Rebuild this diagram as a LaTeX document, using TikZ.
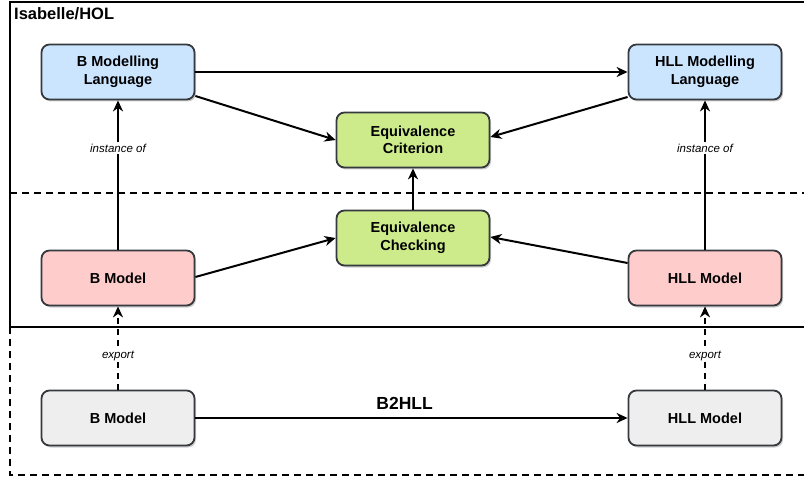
\documentclass[tikz,border=0pt]{standalone}
\usepackage{fontspec}
\setmainfont{Liberation Sans}
\usetikzlibrary{arrows.meta,shadows}
\definecolor{bluefill}{HTML}{CCE5FF}
\definecolor{greenfill}{HTML}{CDEB8B}
\definecolor{pinkfill}{HTML}{FFCCCC}
\definecolor{grayfill}{HTML}{EEEEEE}
\definecolor{strokec}{HTML}{36393D}
\tikzset{
  box/.style={draw=strokec, line width=1.8pt, rounded corners=8pt, minimum width=153pt, minimum height=55pt,
    align=center, inner sep=2pt, font=\fontsize{14.5}{17.5}\selectfont\bfseries,
    drop shadow={shadow xshift=1.5pt, shadow yshift=-2pt, opacity=0.2, fill=black}},
  bluebox/.style={box, fill=bluefill},
  greenbox/.style={box, fill=greenfill},
  pinkbox/.style={box, fill=pinkfill},
  graybox/.style={box, fill=grayfill},
  conn/.style={line width=2pt, -{Stealth[length=11pt, width=10pt, inset=3.5pt]}},
  dconn/.style={conn, dash pattern=on 6pt off 5pt},
  lbl/.style={fill=white, inner sep=1.5pt, font=\fontsize{11.5}{13}\selectfont\itshape},
  frame/.style={line width=2pt},
  dframe/.style={line width=2pt, dash pattern=on 7pt off 5pt},
}
\begin{document}
\begin{tikzpicture}[x=1pt, y=-1pt]
\useasboundingbox (0,0) rectangle (804,484);
\begin{scope}
\clip (0,0) rectangle (804,484);
% frames
\draw[frame] (10,2) rectangle (830,327);
\draw[dframe] (10,193) -- (830,193);
\draw[dframe] (10,327) -- (10,475) -- (830,475);
\node[anchor=north west, inner sep=0pt, font=\fontsize{16.5}{18}\selectfont\bfseries] (title) at (14,7) {Isabelle/HOL};

% nodes
\node[bluebox] (bml) at (118,72) {B Modelling\\Language};
\node[bluebox] (hml) at (705,72) {HLL Modelling\\Language};
\node[greenbox] (crit) at (413,140) {Equivalence\\Criterion};
\node[greenbox] (chk) at (413,238) {Equivalence\\Checking};
\node[pinkbox] (bm) at (118,278) {B Model};
\node[pinkbox] (hm) at (705,278) {HLL Model};
\node[graybox] (gbm) at (118,418) {B Model};
\node[graybox] (ghm) at (705,418) {HLL Model};

% connectors
\draw[conn] (bml.east) -- (hml.west);
\draw[conn] (bml.east |- 0,96) -- (crit.west |- 0,140);
\draw[conn] (hml.west |- 0,97) -- (crit.east |- 0,137);
\draw[conn] (bm.north) -- node[lbl, pos=0.68] (io1) {instance of} (bml.south);
\draw[conn] (hm.north) -- node[lbl, pos=0.68] (io2) {instance of} (hml.south);
\draw[conn] (chk.north) -- (crit.south);
\draw[conn] (bm.east |- 0,277) -- (chk.west |- 0,238);
\draw[conn] (hm.west |- 0,263) -- (chk.east |- 0,237);
\draw[dconn] (gbm.north) -- node[lbl, pos=0.41] (ex1) {export} (bm.south);
\draw[dconn] (ghm.north) -- node[lbl, pos=0.41] (ex2) {export} (hm.south);
\draw[conn] (gbm.east) -- node[above=4pt, font=\fontsize{17.5}{19}\selectfont\bfseries, pos=0.484] (b2h) {B2HLL} (ghm.west);
\end{scope}
\end{tikzpicture}
\end{document}
